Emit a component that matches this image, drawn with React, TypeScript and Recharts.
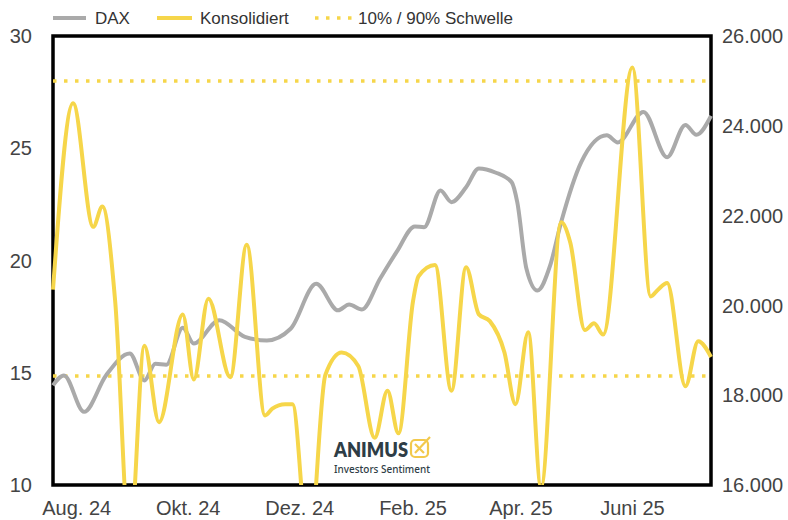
import { LineChart, Line, XAxis, YAxis, ReferenceLine, ReferenceArea } from "recharts";

const konsDates = [
  "2024-07-19", "2024-07-30", "2024-08-10", "2024-08-15", "2024-08-22", "2024-08-30",
  "2024-09-07", "2024-09-15", "2024-09-28", "2024-10-04", "2024-10-12", "2024-10-24",
  "2024-11-02", "2024-11-12", "2024-11-16", "2024-11-23", "2024-11-27", "2024-12-06",
  "2024-12-15", "2024-12-24", "2025-01-02", "2025-01-11", "2025-01-18", "2025-01-24",
  "2025-02-01", "2025-02-04", "2025-02-13", "2025-02-22", "2025-03-02", "2025-03-09",
  "2025-03-15", "2025-03-23", "2025-03-29", "2025-04-05", "2025-04-12", "2025-04-23",
  "2025-04-28", "2025-05-06", "2025-05-11", "2025-05-16", "2025-06-01", "2025-06-11",
  "2025-06-15", "2025-06-20", "2025-06-30", "2025-07-07", "2025-07-14",
];
const konsValues = [
  18.7, 27.0, 21.5, 22.4, 18.2, 7.5,
  16.2, 12.8, 17.6, 14.7, 18.3, 14.8,
  20.7, 13.1, 13.4, 13.6, 13.6, 7.0,
  14.9, 15.9, 15.3, 12.1, 14.2, 12.3,
  18.2, 19.3, 19.8, 14.2, 19.7, 17.6,
  17.3, 15.9, 13.6, 16.8, 9.9, 21.7,
  20.8, 16.9, 17.2, 16.7, 28.6, 18.4,
  18.7, 19.0, 14.4, 16.4, 15.7,
];

const daxDates = [
  "2024-07-19", "2024-07-25", "2024-08-05", "2024-08-17", "2024-08-30", "2024-09-07",
  "2024-09-13", "2024-09-19", "2024-09-28", "2024-10-04", "2024-10-18", "2024-11-01",
  "2024-11-13", "2024-11-26", "2024-12-10", "2024-12-22", "2024-12-28", "2025-01-04",
  "2025-01-14", "2025-01-23", "2025-02-02", "2025-02-07", "2025-02-16", "2025-02-22",
  "2025-03-02", "2025-03-09", "2025-03-18", "2025-03-27", "2025-03-30", "2025-04-04",
  "2025-04-10", "2025-04-17", "2025-04-23", "2025-05-04", "2025-05-18", "2025-05-24",
  "2025-06-07", "2025-06-20", "2025-06-30", "2025-07-06", "2025-07-14",
];
const daxValues = [
  18220, 18440, 17630, 18440, 18930, 18330,
  18700, 18680, 19500, 19150, 19670, 19300,
  19220, 19480, 20480, 19890, 20020, 19910,
  20600, 21190, 21760, 21740, 22560, 22300,
  22630, 23050, 22960, 22740, 22300, 20820,
  20330, 20890, 21850, 23190, 23790, 23630,
  24310, 23300, 24020, 23800, 24220,
];

const tickDates = ["2024-08-01", "2024-10-01", "2024-12-01", "2025-02-01", "2025-04-01", "2025-06-01"];
const tickLabels = ["Aug. 24", "Okt. 24", "Dez. 24", "Feb. 25", "Apr. 25", "Juni 25"];
const leftTicks = [10, 15, 20, 25, 30];
const rightTicks = [16000, 18000, 20000, 22000, 24000, 26000];
const thresholds = [14.85, 28];

const YELLOW = "#f6d64a";
const GRAY = "#aaaaaa";

const konsData = konsDates.map((d, i) => ({ t: Date.parse(d), v: konsValues[i] }));
const daxData = daxDates.map((d, i) => ({ t: Date.parse(d), v: daxValues[i] }));
const ticks = tickDates.map((d) => Date.parse(d));
const xStart = Date.parse(konsDates[0]);
const xEnd = Date.parse(konsDates[konsDates.length - 1]);

const fmtThousands = (v: number) => String(v).replace(/\B(?=(\d{3})+(?!\d))/g, ".");

function Overlay() {
  return (
    <svg
      width={788}
      height={520}
      style={{ position: "absolute", left: 0, top: 0, pointerEvents: "none" }}
    >
      {/* legend */}
      <line x1={53} y1={18} x2={86} y2={18} stroke={GRAY} strokeWidth={4} />
      <text x={95} y={24} fontSize={17} fill="#333">DAX</text>
      <line x1={157} y1={18} x2={192} y2={18} stroke={YELLOW} strokeWidth={4} />
      <text x={200} y={24} fontSize={17} fill="#333">Konsolidiert</text>
      <line x1={315} y1={18} x2={352} y2={18} stroke={YELLOW} strokeWidth={3.5} strokeDasharray="3.5 7.5" />
      <text x={358} y={24} fontSize={17} fill="#333">10% / 90% Schwelle</text>

      {/* logo */}
      <text
        x={334}
        y={457}
        fontSize={21}
        fontWeight={800}
        fill="#2e3d46"
        textLength={74}
        lengthAdjust="spacingAndGlyphs"
        style={{ fontFamily: "Lato, 'Noto Sans', sans-serif" }}
      >
        ANIMUS
      </text>
      <rect x={411} y={440} width={17} height={17} rx={4} fill="none" stroke="#f2c94c" strokeWidth={2.2} />
      <line x1={415} y1={444} x2={424} y2={453} stroke="#f2c94c" strokeWidth={2.2} />
      <line x1={415} y1={453} x2={430} y2={437} stroke="#f2c94c" strokeWidth={2.2} />
      <text
        x={334}
        y={473}
        fontSize={11}
        fontWeight={500}
        fill="#2e3d46"
        textLength={96}
        lengthAdjust="spacingAndGlyphs"
        style={{ fontFamily: "'Noto Sans', sans-serif" }}
      >
        Investors Sentiment
      </text>
    </svg>
  );
}

export default function App() {
  return (
    <div
      style={{
        position: "absolute",
        left: 0,
        top: 0,
        width: 788,
        height: 520,
        background: "#fff",
        fontFamily: "'Liberation Sans', Arial, sans-serif",
      }}
    >
      <LineChart width={788} height={520} margin={{ top: 36, right: 0, bottom: 0, left: 0 }}>
        <XAxis
          dataKey="t"
          type="number"
          domain={[xStart, xEnd]}
          ticks={ticks}
          tickFormatter={(v) => tickLabels[ticks.indexOf(v)] ?? ""}
          axisLine={false}
          tickLine={false}
          tickMargin={10}
          height={35}
          tick={{ fill: "#444", fontSize: 20 }}
          interval={0}
        />
        <YAxis
          yAxisId="left"
          domain={[10, 30]}
          ticks={leftTicks}
          allowDataOverflow
          axisLine={false}
          tickLine={false}
          tickMargin={15}
          width={53}
          tick={{ fill: "#444", fontSize: 20 }}
          interval={0}
        />
        <YAxis
          yAxisId="right"
          orientation="right"
          domain={[16000, 26000]}
          ticks={rightTicks}
          allowDataOverflow
          axisLine={false}
          tickLine={false}
          tickMargin={5}
          width={77}
          tickFormatter={fmtThousands}
          tick={{ fill: "#444", fontSize: 20 }}
          interval={0}
        />
        {thresholds.map((y) => (
          <ReferenceLine
            key={y}
            yAxisId="left"
            y={y}
            stroke={YELLOW}
            strokeWidth={3.5}
            strokeDasharray="3.5 7.5"
          />
        ))}
        <Line
          data={daxData}
          yAxisId="right"
          dataKey="v"
          type="monotone"
          stroke={GRAY}
          strokeWidth={4}
          dot={false}
          activeDot={false}
          isAnimationActive={false}
        />
        <Line
          data={konsData}
          yAxisId="left"
          dataKey="v"
          type="monotone"
          stroke={YELLOW}
          strokeWidth={4}
          dot={false}
          activeDot={false}
          isAnimationActive={false}
        />
        <ReferenceArea
          yAxisId="left"
          x1={xStart}
          x2={xEnd}
          y1={10}
          y2={30}
          fill="none"
          fillOpacity={0}
          stroke="#000"
          strokeWidth={3.5}
        />
      </LineChart>
      <Overlay />
    </div>
  );
}
